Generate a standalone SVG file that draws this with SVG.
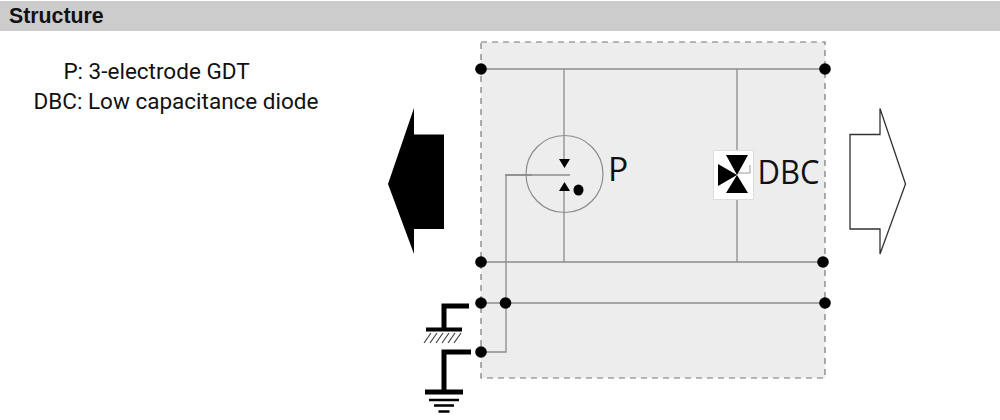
<svg xmlns="http://www.w3.org/2000/svg" width="1000" height="420" viewBox="0 0 1000 420">
<style>
.w{fill:none;stroke:#8c8c8c;stroke-width:1.3}
.g{fill:none;stroke:#000;stroke-width:5}
.d{fill:#000}
.t{font-family:"Roboto",sans-serif;font-size:22.500px;fill:#111;text-anchor:middle}
.l{font-family:"Open Sans",sans-serif;font-size:33.600px;fill:#111}
</style>
<rect width="1000" height="420" fill="#fff"/>
<g id="header"><rect x="0" y="1" width="1000" height="30" fill="#ccc"/>
<text x="9" y="22.500" font-family="Liberation Sans, sans-serif" font-weight="700" font-size="21.300px" fill="#111">Structure</text></g>
<g id="legend"><text class="t" x="156.500" y="79">P: 3-electrode GDT</text><text class="t" x="176" y="109">DBC: Low capacitance diode</text></g>
<g id="panel"><rect x="481" y="42" width="344" height="336" fill="#ededed" stroke="#777" stroke-width="1.200" stroke-dasharray="6 5"/></g>
<g id="connectors">
<path class="w" d="M481 69H825M481 262H823M481 303H825M481 352H506V175H532M564 69V162M564 189V262M737 69V150M737 200V262"/>
</g>
<g id="P"><circle cx="564.500" cy="174" r="38.500" fill="none" stroke="#8c8c8c" stroke-width="1.200"/>
<path class="w" d="M505 175H570"/>
<path class="d" d="M559 159H570L564.500 168ZM559 191L564.500 182L570 191Z"/>
<ellipse class="d" cx="578.500" cy="190" rx="5" ry="5.500"/>
<text class="l" x="608" y="181">P</text></g>
<g id="DBC"><rect x="713.500" y="150.500" width="40" height="49" fill="#fff" stroke="#ddd"/>
<path class="d" d="M726 155H748L737 175ZM726 193H748L737 175ZM718 164V186L737 175Z"/>
<path fill="none" stroke="#999" d="M738 173H750V165"/>
<text class="l" x="757.500" y="184" textLength="62" lengthAdjust="spacingAndGlyphs">DBC</text></g>
<g id="arrow-left"><path class="d" d="M388 184L414 108V134.500H444V229H414V254Z"/></g>
<g id="arrow-right"><path d="M905.500 184L880 108.500V134.500H850V229H880V254Z" fill="#fff" stroke="#333" stroke-width="1.300"/></g>
<g id="ground-chassis"><path class="g" d="M469 306H444V329"/><path fill="none" stroke="#000" stroke-width="4" d="M426 329.500H462"/>
<path fill="none" stroke="#444" stroke-width="1.200" d="M431 333L424 343M437 333L430 343M443 333L436 343M449 333L442 343M455 333L448 343M461 333L454 343"/></g>
<g id="ground-earth"><path class="g" d="M471 352H444V391"/><path d="M425 392H463" fill="none" stroke="#000" stroke-width="5"/><path fill="none" stroke="#000" stroke-width="2.600" d="M429 400H459M434 405.500H454M438.500 411.500H449.500"/></g>
<g id="junctions">
<circle class="d" cx="481" cy="69" r="5.800"/><circle class="d" cx="825" cy="69" r="5.800"/>
<circle class="d" cx="481" cy="262" r="5.800"/><circle class="d" cx="823" cy="262" r="5.800"/>
<circle class="d" cx="481" cy="303" r="5.800"/><circle class="d" cx="505.500" cy="303" r="5.800"/><circle class="d" cx="825" cy="303" r="5.800"/>
<circle class="d" cx="481" cy="352" r="5.800"/></g>
</svg>
